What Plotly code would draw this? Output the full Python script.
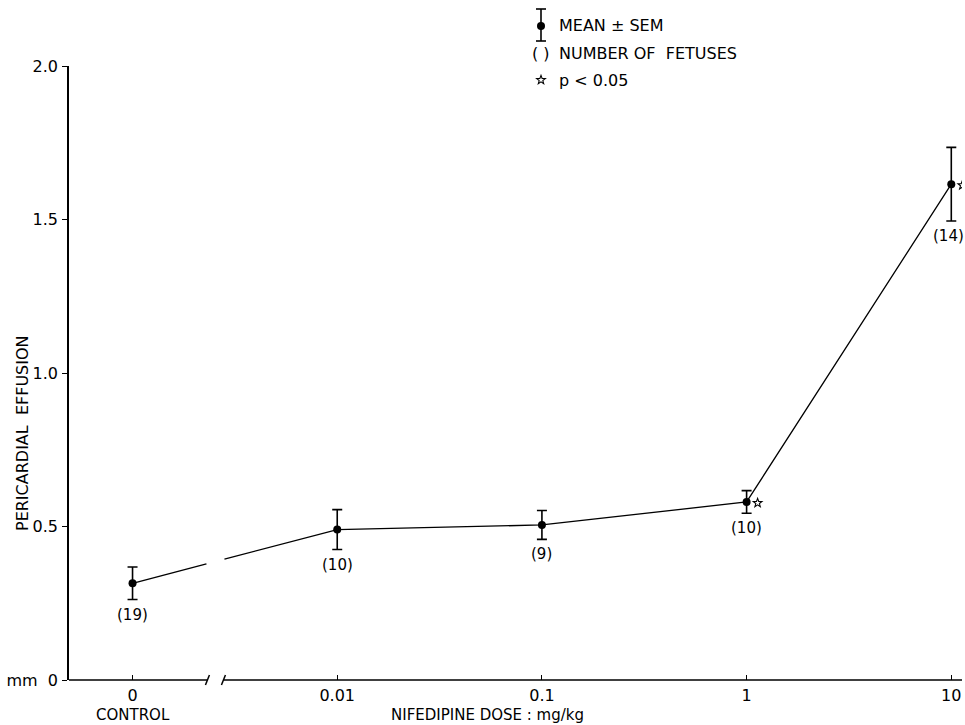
import numpy as np
import plotly.graph_objects as go

# Pericardial effusion (mm) by nifedipine dose, mean ± SEM
dose_labels = ["0", "0.01", "0.1", "1", "10"]
dose_pos = [0, 1, 2, 3, 4]
effusion_mean = [0.315, 0.49, 0.505, 0.58, 1.615]
effusion_sem = [0.053, 0.065, 0.047, 0.037, 0.12]
n_fetuses = [19, 10, 9, 10, 14]
significant = [False, False, False, True, True]

y_tick_vals = [0, 0.5, 1.0, 1.5, 2.0]
y_tick_text = ["mm  0", "0.5", "1.0", "1.5", "2.0"]

FONT = "DejaVu Sans"
W, H = 965, 725
ML, MR, MT, MB = 69, 3, 66, 45
X_RANGE = [-0.3104, 4.0523]
Y_RANGE = [0, 2.0]
PLOT_W = W - ML - MR
PLOT_H = H - MT - MB
PX_PER_X = PLOT_W / (X_RANGE[1] - X_RANGE[0])

# axis break between control and the first dose
BREAK_X = 0.405
LINE_GAP_PX = 9
AXIS_GAP_PX = 8

COUNT_FONT = 15


def px(x):
    return (x - ML) / PLOT_W


def py(y):
    return (H - MB - y) / PLOT_H


def star_path(cx, cy, r_out=4.6, r_in=1.9):
    """Outline of a five-pointed star, in pixels around (cx, cy)."""
    pts = []
    for k in range(10):
        r = r_out if k % 2 == 0 else r_in
        a = np.pi / 2 + k * np.pi / 5
        pts.append((cx + r * np.cos(a), cy + r * np.sin(a)))
    return "M " + " L ".join(f"{x:.2f},{y:.2f}" for x, y in pts) + " Z"


fig = go.Figure()

# connecting line, interrupted at the axis break
xs = np.array(dose_pos, dtype=float)
ys = np.array(effusion_mean, dtype=float)
gap_l = BREAK_X - LINE_GAP_PX / PX_PER_X
gap_r = BREAK_X + LINE_GAP_PX / PX_PER_X
seg1_x = [xs[0], gap_l]
seg1_y = [ys[0], float(np.interp(gap_l, xs, ys))]
seg2_x = [gap_r] + list(xs[1:])
seg2_y = [float(np.interp(gap_r, xs, ys))] + list(ys[1:])
for sx, sy in [(seg1_x, seg1_y), (seg2_x, seg2_y)]:
    fig.add_trace(go.Scatter(x=sx, y=sy, mode="lines",
                             line=dict(color="black", width=1.3),
                             hoverinfo="skip"))

# means with SEM error bars
fig.add_trace(go.Scatter(
    x=dose_pos, y=effusion_mean, mode="markers",
    marker=dict(color="black", size=8, symbol="circle"),
    error_y=dict(type="data", array=effusion_sem, visible=True,
                 color="black", thickness=1.6, width=5),
))

annotations = []
shapes = []
# number of fetuses under each lower error bar; keep the label inside the page
for x, m, s, n in zip(dose_pos, effusion_mean, effusion_sem, n_fetuses):
    label = f"({n})"
    half_w = 0.5 * len(label) * 0.52 * COUNT_FONT
    x_px = ML + (x - X_RANGE[0]) * PX_PER_X
    shift = min(0.0, (W - 1) - (x_px + half_w))
    annotations.append(dict(x=x, y=m - s, xref="x", yref="y", text=label,
                            showarrow=False, yshift=-15, xshift=shift,
                            yanchor="middle",
                            font=dict(family=FONT, size=COUNT_FONT, color="black")))
# significance stars beside the mean
for x, m, sig in zip(dose_pos, effusion_mean, significant):
    if sig:
        shapes.append(dict(type="path", xref="x", yref="y",
                           xsizemode="pixel", ysizemode="pixel",
                           xanchor=x, yanchor=m, path=star_path(11, -1),
                           line=dict(color="black", width=1.1)))

# axis titles
annotations.append(dict(x=0, y=py(715), xref="x", yref="paper", text="CONTROL",
                        showarrow=False, yanchor="middle",
                        font=dict(family=FONT, size=15, color="black")))
annotations.append(dict(x=px(487), y=py(715), xref="paper", yref="paper",
                        text="NIFEDIPINE DOSE : mg/kg", showarrow=False,
                        yanchor="middle",
                        font=dict(family=FONT, size=15, color="black")))
annotations.append(dict(x=px(22), y=py(433), xref="paper", yref="paper",
                        text="PERICARDIAL  EFFUSION", textangle=-90,
                        showarrow=False, xanchor="center", yanchor="middle",
                        font=dict(family=FONT, size=16, color="black")))

# key
key_x, key_text_x = 541, 557
key_rows = [26, 54, 80]
for txt, yy in zip(["MEAN ± SEM", "NUMBER OF  FETUSES", "p < 0.05"], key_rows):
    annotations.append(dict(x=px(key_text_x), y=py(yy), xref="paper", yref="paper",
                            text=txt, showarrow=False, xanchor="left",
                            yanchor="middle",
                            font=dict(family=FONT, size=16, color="black")))
annotations.append(dict(x=px(key_x), y=py(key_rows[1]), xref="paper", yref="paper",
                        text="( )", showarrow=False, xanchor="center",
                        yanchor="middle",
                        font=dict(family=FONT, size=16, color="black")))
shapes.append(dict(type="path", xref="paper", yref="paper",
                   xsizemode="pixel", ysizemode="pixel",
                   xanchor=px(key_x), yanchor=py(key_rows[2]),
                   path=star_path(0, 0), line=dict(color="black", width=1.1)))

# x axis line with break marks
axis_style = dict(color="black", width=1.5)
shapes.append(dict(type="line", xref="x", yref="paper",
                   x0=X_RANGE[0], x1=BREAK_X - AXIS_GAP_PX / PX_PER_X,
                   y0=0, y1=0, line=axis_style))
shapes.append(dict(type="line", xref="x", yref="paper",
                   x0=BREAK_X + AXIS_GAP_PX / PX_PER_X, x1=X_RANGE[1],
                   y0=0, y1=0, line=axis_style))
for off in (-AXIS_GAP_PX, AXIS_GAP_PX):
    shapes.append(dict(type="line", xref="x", yref="paper",
                       xsizemode="pixel", xanchor=BREAK_X,
                       ysizemode="pixel", yanchor=0,
                       x0=off - 2, x1=off + 2, y0=-5, y1=5,
                       line=dict(color="black", width=1.5)))

# key symbol: error bar with dot
key_top, key_bot, key_dot = 9, 41, 26
shapes.append(dict(type="line", xref="paper", yref="paper",
                   x0=px(key_x), x1=px(key_x), y0=py(key_top), y1=py(key_bot),
                   line=dict(color="black", width=1.6)))
for yy in (key_top, key_bot):
    shapes.append(dict(type="line", xref="paper", yref="paper",
                       x0=px(key_x - 5), x1=px(key_x + 5), y0=py(yy), y1=py(yy),
                       line=dict(color="black", width=1.6)))
shapes.append(dict(type="circle", xref="paper", yref="paper",
                   x0=px(key_x - 4), x1=px(key_x + 4),
                   y0=py(key_dot + 4), y1=py(key_dot - 4),
                   fillcolor="black", line=dict(color="black", width=0)))

fig.update_layout(
    width=W, height=H,
    margin=dict(l=ML, r=MR, t=MT, b=MB),
    paper_bgcolor="white", plot_bgcolor="white",
    showlegend=False,
    font=dict(family=FONT, size=16, color="black"),
    xaxis=dict(range=X_RANGE, tickvals=dose_pos, ticktext=dose_labels,
               ticks="inside", ticklen=5, tickwidth=1.3, tickcolor="black",
               showline=False, showgrid=False, zeroline=False,
               ticklabelstandoff=4,
               tickfont=dict(family=FONT, size=16, color="black")),
    yaxis=dict(range=Y_RANGE, tickvals=y_tick_vals, ticktext=y_tick_text,
               ticks="outside", ticklen=5, tickwidth=1.3, tickcolor="black",
               showline=True, linewidth=1.5, linecolor="black",
               showgrid=False, zeroline=False, ticklabelstandoff=1,
               tickfont=dict(family=FONT, size=16, color="black")),
    annotations=annotations,
    shapes=shapes,
)

fig.write_html("out.html")
